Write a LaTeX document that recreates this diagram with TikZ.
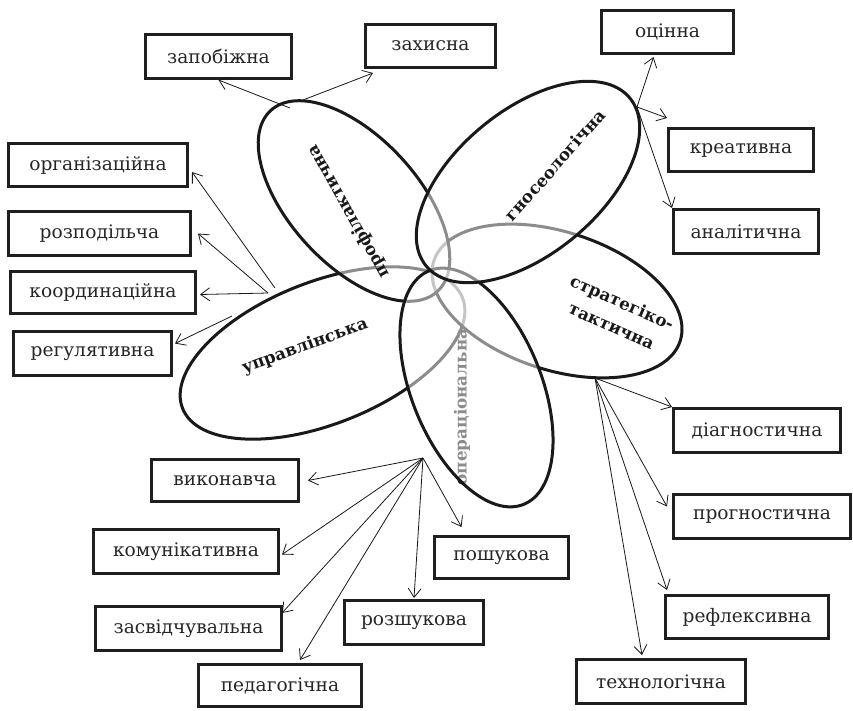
\documentclass[tikz,border=0pt]{standalone}
\usepackage{fontspec}
\setmainfont{DejaVu Serif}
\usetikzlibrary{shapes.geometric,arrows.meta}
\begin{document}
\begin{tikzpicture}[x=1pt,y=-1pt,
  petal/.style={ellipse, draw=black!90, line width=3pt, fill=white, fill opacity=0.5, inner sep=0pt},
  lbl/.style={font=\fontsize{16.8}{26}\selectfont\bfseries, text=black!90, inner sep=0pt},
  box/.style={draw=black!88, line width=3pt, font=\fontsize{18.6}{22}\selectfont, text=black!85, inner sep=0pt},
  arr/.style={-{Straight Barb[length=9pt,width=13pt]}, line width=0.8pt, draw=black!90}]
\fill[white] (0,0) rectangle (853,710);
\useasboundingbox (0,0) rectangle (853,710);

% petals, bottom to top
\node[petal, minimum width=301pt, minimum height=142pt, rotate=21.6] (e5) at (322.5,353) {};
\node[petal, minimum width=259pt, minimum height=138pt, rotate=-18] (e3) at (557,301) {};
\node[petal, minimum width=246pt, minimum height=128pt, rotate=-47.3] (e1) at (354,201) {};
\node[lbl, rotate=90] (l4) at (462,407) {операціональна};
\node[petal, minimum width=252pt, minimum height=130pt, rotate=-68] (e4) at (476.5,387.5) {};
\node[petal, minimum width=264pt, minimum height=144pt, rotate=39.5] (e2) at (528,182) {};

% petal labels
\node[lbl, rotate=119.3] (l1) at (348.5,211.5) {профілактична};
\node[lbl, rotate=48.5] (l2) at (555,165) {гносеологічна};
\node[lbl, rotate=-24, align=center] (l3) at (617,314) {стратегіко-\\тактична};
\node[lbl, rotate=20] (l5) at (305,346.5) {управлінська};

% boxes
\node[box, minimum width=146pt, minimum height=44pt] (zap) at (218.5,56.5) {запобіжна};
\node[box, minimum width=130pt, minimum height=43pt] (zax) at (430.5,46) {захисна};
\node[box, minimum width=132pt, minimum height=43pt] (oc) at (667.5,32) {оцінна};
\node[box, minimum width=145pt, minimum height=43pt] (kr) at (741,150) {креативна};
\node[box, minimum width=145pt, minimum height=44pt] (an) at (746,231.5) {аналітична};
\node[box, minimum width=179pt, minimum height=43pt] (org) at (98,165) {організаційна};
\node[box, minimum width=182pt, minimum height=44pt] (rzp) at (99.5,233.5) {розподільча};
\node[box, minimum width=185pt, minimum height=42pt] (koo) at (103,292.5) {координаційна};
\node[box, minimum width=158pt, minimum height=44pt] (reg) at (92.5,353.5) {регулятивна};
\node[box, minimum width=147pt, minimum height=42pt] (vyk) at (225,480.5) {виконавча};
\node[box, minimum width=185pt, minimum height=44pt] (kom) at (186,551.5) {комунікативна};
\node[box, minimum width=186pt, minimum height=44pt] (zas) at (188.5,628.5) {засвідчувальна};
\node[box, minimum width=163pt, minimum height=42pt] (ped) at (280,685.5) {педагогічна};
\node[box, minimum width=139pt, minimum height=44pt] (rsh) at (414,622.5) {розшукова};
\node[box, minimum width=134pt, minimum height=42pt] (psh) at (501.5,557.5) {пошукова};
\node[box, minimum width=167pt, minimum height=44pt] (dia) at (757,430.5) {діагностична};
\node[box, minimum width=177pt, minimum height=44pt] (prg) at (762,516.5) {прогностична};
\node[box, minimum width=163pt, minimum height=43pt] (ref) at (747,617) {рефлексивна};
\node[box, minimum width=169pt, minimum height=44pt] (teh) at (661,681.5) {технологічна};

% arrow origins on the petals
\coordinate (p1a) at (290,108);
\coordinate (p1b) at (303,100);
\coordinate (g1) at (637,107);
\coordinate (u1) at (275,288);
\coordinate (u2) at (268,293);
\coordinate (u3) at (232,316);
\coordinate (o1) at (423,458);
\coordinate (s1) at (595,378);

\draw[arr] (p1a) -- (zap.south);
\draw[arr] (p1b) -- ([xshift=9pt,yshift=-4pt]zax.south west);
\draw[arr] (g1) -- ([xshift=-14pt,yshift=-2pt]oc.south);
\draw[arr] (g1) -- ([yshift=9pt]kr.north west);
\draw[arr] (g1) -- (an.north west);
\draw[arr] (u1) -- ([xshift=3pt,yshift=-7pt]org.east);
\draw[arr] (u2) -- ([xshift=6pt]rzp.east);
\draw[arr] (u2) -- ([xshift=3pt,yshift=-2pt]koo.east);
\draw[arr] (u3) -- ([xshift=2pt,yshift=10pt]reg.east);
\draw[arr] (o1) -- ([xshift=8pt]vyk.east);
\draw[arr] (o1) -- ([xshift=2pt,yshift=-3pt]kom.east);
\draw[arr] (o1) -- ([xshift=-1pt,yshift=-8pt]zas.north east);
\draw[arr] (o1) -- ([xshift=20pt,yshift=3pt]ped.north);
\draw[arr] (o1) -- ([yshift=1pt]rsh.north);
\draw[arr] (o1) -- ([xshift=-40pt,yshift=8pt]psh.north);
\draw[arr] (s1) -- (dia.north west);
\draw[arr] (s1) -- ([xshift=-5pt,yshift=10pt]prg.west);
\draw[arr] (s1) -- ([xshift=3pt,yshift=4pt]ref.north west);
\draw[arr] (s1) -- ([xshift=-19pt,yshift=3pt]teh.north);
\end{tikzpicture}
\end{document}
